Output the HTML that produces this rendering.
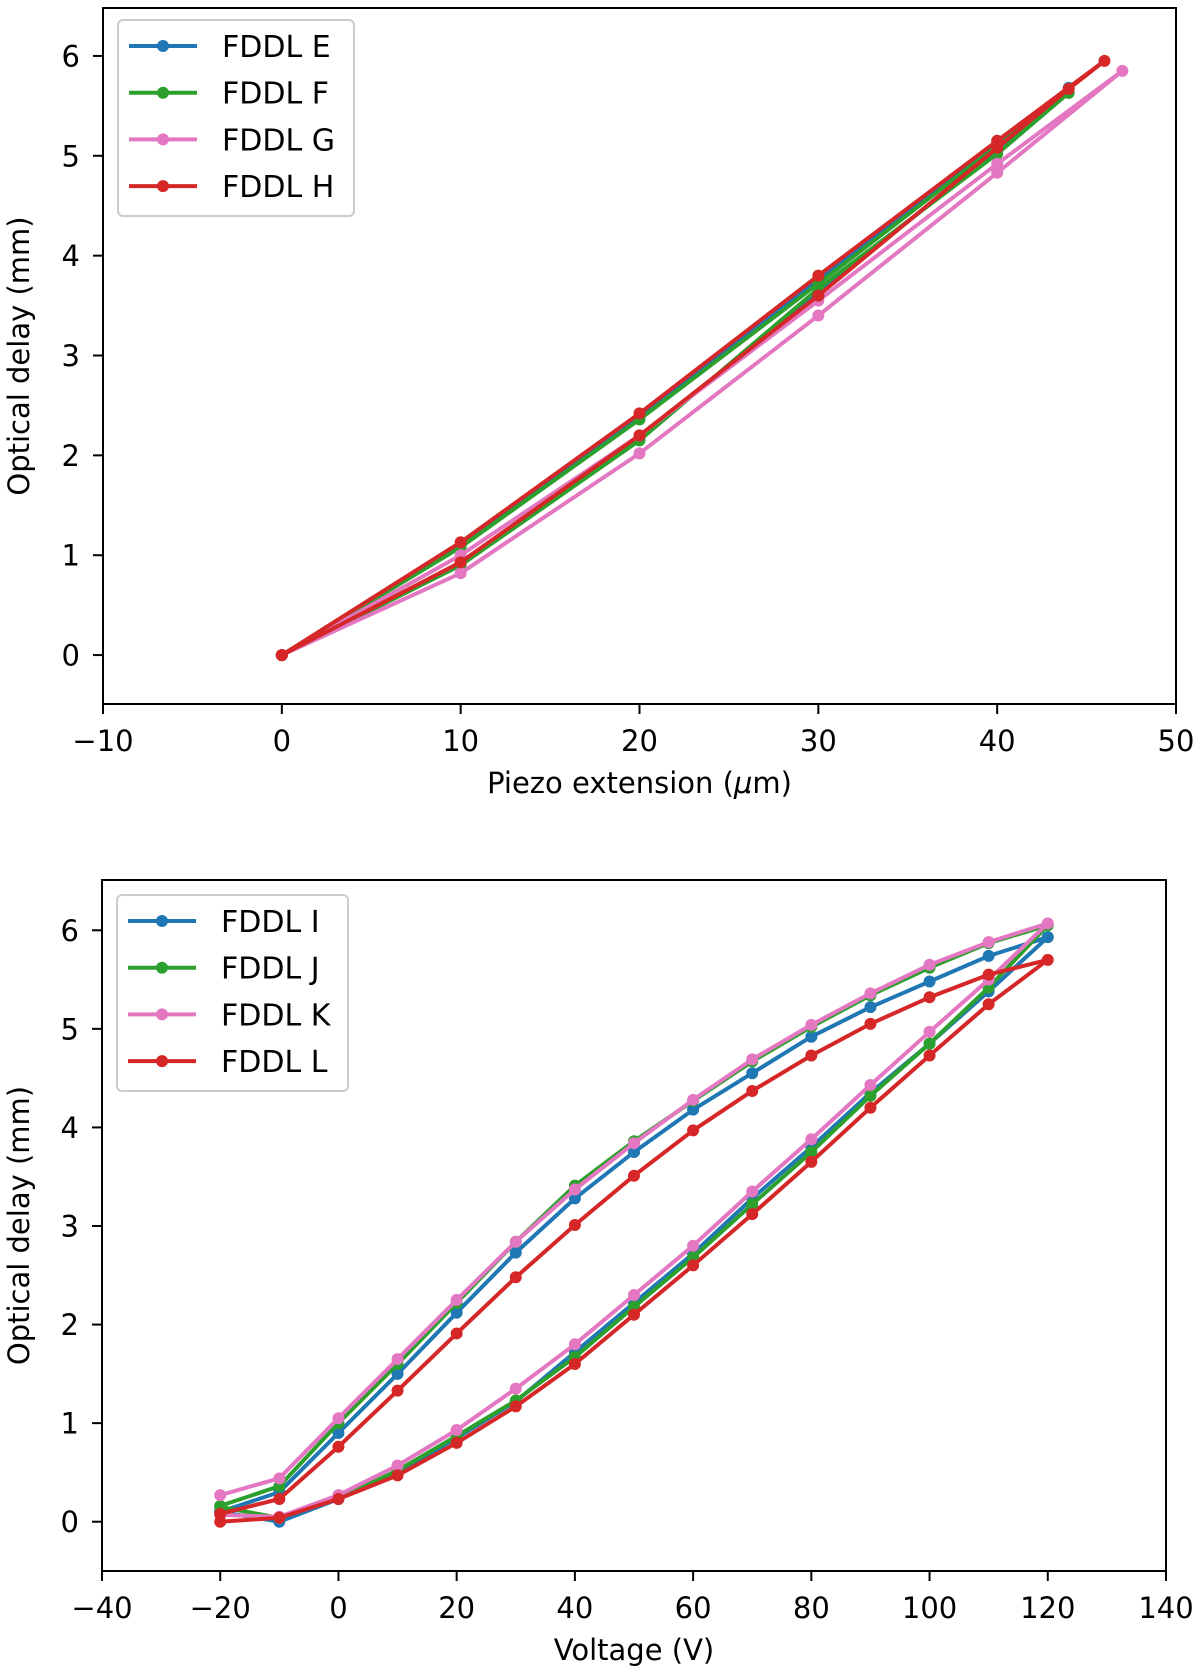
<!DOCTYPE html>
<html><head><meta charset="utf-8"><style>
html,body{margin:0;padding:0;background:#fff;width:1200px;height:1672px;overflow:hidden}
svg text{font-family:"DejaVu Sans","Liberation Sans",sans-serif;fill:#000}
</style></head><body>
<svg id="svg" width="1200" height="1672" xmlns="http://www.w3.org/2000/svg"></svg>
<script>
// ---- Top chart data ----
const topNames = ["FDDL E","FDDL F","FDDL G","FDDL H"];
const topX_E = [0,10,20,30,40,44,40,30,20,10,0];
const topY_E = [0,0.92,2.17,3.63,5.05,5.68,5.12,3.76,2.38,1.10,0];
const topX_F = [0,10,20,30,40,44,40,30,20,10,0];
const topY_F = [0,0.90,2.15,3.67,5.02,5.63,5.10,3.72,2.36,1.08,0];
const topX_G = [0,10,20,30,40,47,40,30,20,10,0];
const topY_G = [0,0.82,2.02,3.40,4.83,5.85,4.92,3.55,2.20,1.00,0];
const topX_H = [0,10,20,30,40,44,46,40,30,20,10,0];
const topY_H = [0,0.93,2.20,3.60,5.08,5.67,5.95,5.15,3.80,2.42,1.13,0];
const topXTicks = [-10,0,10,20,30,40,50];
const topYTicks = [0,1,2,3,4,5,6];
// ---- Bottom chart data ----
const botNames = ["FDDL I","FDDL J","FDDL K","FDDL L"];
const volts = [-20,-10,0,10,20,30,40,50,60,70,80,90,100,110,120,110,100,90,80,70,60,50,40,30,20,10,0,-10,-20];
const botY_I = [0.10,0.00,0.23,0.50,0.85,1.22,1.72,2.22,2.72,3.28,3.80,4.35,4.85,5.38,5.93,5.74,5.48,5.22,4.92,4.55,4.18,3.75,3.28,2.73,2.12,1.50,0.90,0.30,0.10];
const botY_J = [0.15,0.04,0.24,0.52,0.87,1.23,1.67,2.18,2.68,3.22,3.75,4.32,4.85,5.42,6.05,5.87,5.62,5.34,5.02,4.67,4.27,3.86,3.41,2.84,2.22,1.60,1.00,0.36,0.16];
const botY_K = [0.07,0.05,0.27,0.57,0.93,1.35,1.80,2.30,2.80,3.35,3.88,4.43,4.97,5.50,6.07,5.88,5.65,5.36,5.04,4.69,4.28,3.84,3.37,2.84,2.25,1.65,1.05,0.44,0.27];
const botY_L = [0.00,0.04,0.23,0.47,0.80,1.17,1.60,2.10,2.60,3.12,3.65,4.20,4.73,5.25,5.70,5.55,5.32,5.05,4.73,4.37,3.97,3.51,3.01,2.48,1.91,1.33,0.76,0.23,0.08];
const botXTicks = [-40,-20,0,20,40,60,80,100,120,140];
const botYTicks = [0,1,2,3,4,5,6];
const colors = ["#1f77b4","#2ca02c","#e377c2","#d62728"];

const NS="http://www.w3.org/2000/svg";
const svg=document.getElementById('svg');
function mk(tag,attrs,parent){const e=document.createElementNS(NS,tag);for(const k in attrs)e.setAttribute(k,attrs[k]);(parent||svg).appendChild(e);return e;}
const minus=v=>v<0?"\u2212"+Math.abs(v):String(v);

function chart(cfg){
  const g=mk('g',{});
  
  
  const sx=v=>cfg.L+(v-cfg.xmin)/(cfg.xmax-cfg.xmin)*(cfg.R-cfg.L);
  const sy=v=>cfg.B-(v-cfg.ymin)/(cfg.ymax-cfg.ymin)*(cfg.B-cfg.T);
  cfg.series.forEach((s,i)=>{
    const sg=mk('g',{},g);
    
    
    const pts=s.x.map((xv,j)=>sx(xv).toFixed(1)+','+sy(s.y[j]).toFixed(1)).join(' ');
    const pl=mk('polyline',{points:pts,fill:'none',stroke:colors[i],'stroke-width':4,'stroke-linejoin':'round','stroke-linecap':'square'},sg);
    
    
    s.x.forEach((xv,j)=>{
      const c=mk('circle',{cx:sx(xv),cy:sy(s.y[j]),r:6,fill:colors[i]},sg);
      
      
    });
  });
  const fr=mk('rect',{x:cfg.L,y:cfg.T,width:cfg.R-cfg.L,height:cfg.B-cfg.T,fill:'none',stroke:'#000','stroke-width':2},g);
  
  
  cfg.xticks.forEach(t=>{
    const x=sx(t);
    mk('line',{x1:x,y1:cfg.B,x2:x,y2:cfg.B+10,stroke:'#000','stroke-width':2},g);
    const tx=mk('text',{x:x,y:cfg.B+47,'text-anchor':'middle','font-size':29},g);
    tx.textContent=minus(t);
    
    
  });
  cfg.yticks.forEach(t=>{
    const y=sy(t);
    mk('line',{x1:cfg.L-10,y1:y,x2:cfg.L,y2:y,stroke:'#000','stroke-width':2},g);
    const tx=mk('text',{x:cfg.L-23,y:y+10.5,'text-anchor':'end','font-size':29},g);
    tx.textContent=minus(t);
    
    
  });
  const xl=mk('text',{x:(cfg.L+cfg.R)/2,y:cfg.B+89,'text-anchor':'middle','font-size':29},g);
  xl.innerHTML=cfg.xlabel;
  
  
  const yc=(cfg.T+cfg.B)/2;
  const yl=mk('text',{x:0,y:0,'text-anchor':'middle','font-size':29,transform:`translate(29,${yc}) rotate(-90)`},g);
  yl.textContent='Optical delay (mm)';
  
  
  const lg=mk('g',{},g);
  
  
  mk('rect',{x:cfg.lx,y:cfg.ly,width:cfg.lw,height:196,rx:5,fill:'#fff','fill-opacity':0.8,stroke:'#ccc','stroke-width':2},lg);
  cfg.series.forEach((s,i)=>{
    const y=cfg.ly+26+i*46.7;
    const eg=mk('g',{},lg);
    
    
    mk('line',{x1:cfg.lx+11,y1:y,x2:cfg.lx+79,y2:y,stroke:colors[i],'stroke-width':4},eg);
    mk('circle',{cx:cfg.lx+45,cy:y,r:6,fill:colors[i]},eg);
    const t=mk('text',{x:cfg.lx+104,y:y+11,'font-size':30},eg);
    t.textContent=s.label;
  });
}

chart({name:'top-chart',L:103,R:1176,T:8,B:704,xmin:-10,xmax:50,ymin:-0.49,ymax:6.48,
  xticks:topXTicks,yticks:topYTicks,xlabel:'Piezo extension (<tspan font-style="italic">μ</tspan>m)',
  lx:118,ly:20,lw:236,
  series:[{label:topNames[0],x:topX_E,y:topY_E},{label:topNames[1],x:topX_F,y:topY_F},{label:topNames[2],x:topX_G,y:topY_G},{label:topNames[3],x:topX_H,y:topY_H}]});

chart({name:'bottom-chart',L:102,R:1166,T:880,B:1571,xmin:-40,xmax:140,ymin:-0.50,ymax:6.51,
  xticks:botXTicks,yticks:botYTicks,xlabel:'Voltage (V)',
  lx:117,ly:895,lw:231,
  series:[{label:botNames[0],x:volts,y:botY_I},{label:botNames[1],x:volts,y:botY_J},{label:botNames[2],x:volts,y:botY_K},{label:botNames[3],x:volts,y:botY_L}]});
</script>
</body></html>
